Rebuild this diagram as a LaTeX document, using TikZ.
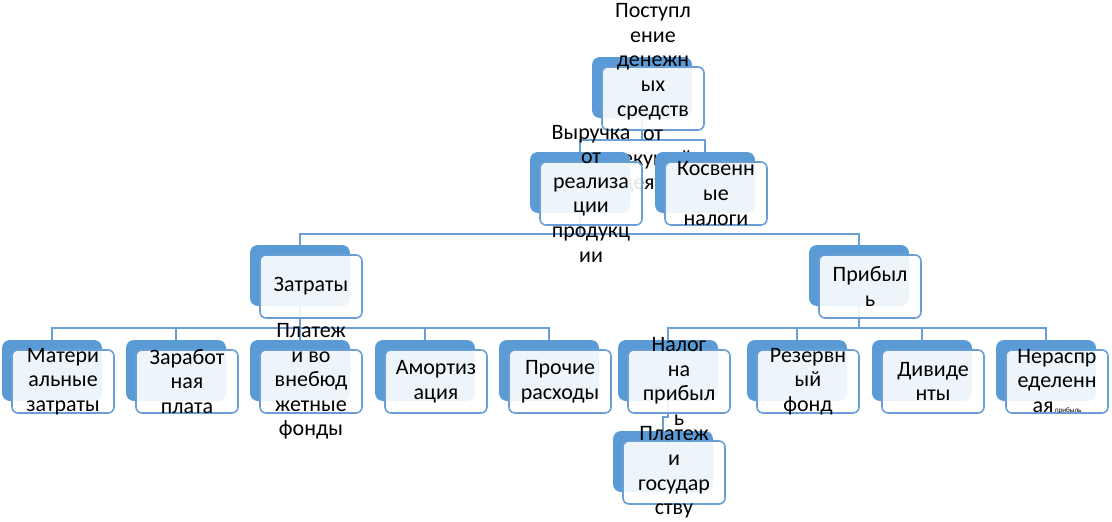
\documentclass[tikz,border=0pt]{standalone}
\usepackage{fontspec}
\setmainfont{Carlito}
\usetikzlibrary{calc}
\pgfdeclarelayer{bg}
\pgfsetlayers{bg,main}
\definecolor{dk}{HTML}{5B9BD5}
\definecolor{ln}{HTML}{6A9FD6}
\tikzset{
  darkbox/.style={draw=none, fill=dk, rounded corners=8pt, minimum width=100pt, minimum height=61pt, anchor=north west, inner sep=0pt, outer sep=0pt},
  lightbox/.style={draw=ln, line width=1.6pt, fill=white, fill opacity=0.9, rounded corners=6pt, minimum width=102pt, minimum height=63pt, anchor=north west, inner sep=0pt, outer sep=0pt},
  lbl/.style={align=center, font=\fontsize{22}{24.6}\selectfont, inner sep=0pt, text=black},
  conn/.style={draw=ln, line width=1.6pt},
}
\newcommand\orgbox[4]{%
  \node[darkbox] (#1d) at (#2,#3) {};
  \node[lightbox] (#1l) at (#2+10,#3+10) {};
  \node[lbl] (#1t) at (#1l.center) {#4};
}
\begin{document}
\begin{tikzpicture}[x=1pt,y=-1pt]
\useasboundingbox (0,0) rectangle (1112,522);
% level 1
\orgbox{top}{592}{57}{Поступл\\ение\\денежн\\ых\\средств\\от\\текущей\\деятел}
% level 2
\orgbox{vy}{530}{152}{Выручка\\от\\реализа\\ции\\продукц\\ии}
\orgbox{ko}{655}{152}{Косвенн\\ые\\налоги}
% level 3
\orgbox{za}{250}{245}{Затраты}
\orgbox{pb}{809}{245}{Прибыл\\ь}
% level 4
\orgbox{ma}{2}{340}{Матери\\альные\\затраты}
\orgbox{zp}{126}{340}{Заработ\\ная\\плата}
\orgbox{pv}{250}{340}{Платеж\\и во\\внебюд\\жетные\\фонды}
\orgbox{am}{375}{340}{Амортиз\\ация}
\orgbox{pc}{499}{340}{Прочие\\расходы}
\orgbox{na}{618}{340}{Налог\\на\\прибыл\\ь}
\orgbox{re}{747}{340}{Резервн\\ый\\фонд}
\orgbox{di}{872}{340}{Дивиде\\нты}
\orgbox{ne}{996}{340}{Нераспр\\еделенн\\ая{\fontsize{7}{8}\selectfont\ прибыль}}
% level 5
\orgbox{pg}{613}{431}{Платеж\\и\\государ\\ству}
\begin{pgfonlayer}{bg}
  \fill[white] (0,0) rectangle (1112,522);
  \draw[conn] (topd.south) |- ([yshift=12pt]vyd.north) -- (vyd.north);
  \draw[conn] (topd.south) |- ([yshift=12pt]kod.north) -- (kod.north);
  \draw[conn] (vyd.south) |- ([yshift=11pt]zad.north) -- (zad.north);
  \draw[conn] (vyd.south) |- ([yshift=11pt]pbd.north) -- (pbd.north);
  \foreach \c in {ma,zp,pv,am,pc}
    \draw[conn] (zad.south) |- ([yshift=12pt]\c d.north) -- (\c d.north);
  \foreach \c in {na,re,di,ne}
    \draw[conn] (pbd.south) |- ([yshift=12pt]\c d.north) -- (\c d.north);
  \draw[conn] (nad.south) |- ([yshift=14pt]pgd.north) -- (pgd.north);
\end{pgfonlayer}
\end{tikzpicture}
\end{document}
